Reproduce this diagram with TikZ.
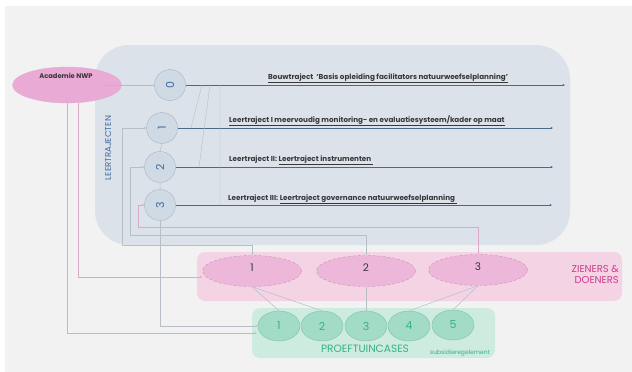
\documentclass[tikz,border=0pt]{standalone}
\usepackage{fontspec}
\setmainfont{Poppins}
\usepackage{xcolor}
\usetikzlibrary{arrows.meta}
\definecolor{achter}{HTML}{F2F2F2}
\definecolor{trajblok}{HTML}{DCE2E9}
\definecolor{trajcirkel}{HTML}{D0DAE4}
\definecolor{trajrand}{HTML}{A9B5C1}
\definecolor{trajblauw}{HTML}{3D6B9E}
\definecolor{trajlijn}{HTML}{4B6A86}
\definecolor{tekstgrijs}{HTML}{383838}
\definecolor{roosblok}{HTML}{F4D3E4}
\definecolor{roosell}{HTML}{ECB7D9}
\definecolor{roosrand}{HTML}{CC8FB8}
\definecolor{acadroos}{HTML}{E9AAD6}
\definecolor{magenta}{HTML}{CC3D8C}
\definecolor{groenblok}{HTML}{CDEBDF}
\definecolor{groenell}{HTML}{A3DCC6}
\definecolor{groenrand}{HTML}{7FC2A9}
\definecolor{groentekst}{HTML}{36B089}
\definecolor{verbgrijs}{HTML}{B7BEC6}
\definecolor{verbroos}{HTML}{D9A9C5}
\newcommand{\fs}[1]{\fontsize{#1}{#1}\selectfont}
\newcommand{\draai}[1]{\rotatebox{90}{#1}}
\tikzset{
  tip/.style={-{Stealth[length=2.4pt,width=2pt]}},
  trajcirc/.style={circle,fill=trajcirkel,draw=trajrand,line width=0.4pt,minimum size=31pt,inner sep=0pt,text=trajblauw,font=\fs{11}},
  zienell/.style={ellipse,fill=roosell,draw=roosrand,densely dashed,line width=0.4pt,minimum width=99pt,minimum height=31pt,inner sep=0pt,text=tekstgrijs,font=\fs{10}},
  proefell/.style={ellipse,fill=groenell,draw=groenrand,line width=0.4pt,minimum width=42pt,minimum height=30pt,inner sep=0pt,text=groentekst,font=\fs{11}},
  trajtekst/.style={anchor=base west,inner sep=0pt,text=tekstgrijs,font=\bfseries\fs{7.2}},
  verb/.style={draw=verbgrijs,line width=0.5pt},
  verbr/.style={draw=verbroos,line width=0.5pt},
  trajpijl/.style={draw=trajlijn,line width=0.7pt,tip}
}
\usetikzlibrary{shapes.geometric}
\begin{document}
\begin{tikzpicture}[x=1pt,y=-1pt]
\useasboundingbox (0,0) rectangle (632,372);
\fill[white] (0,0) rectangle (632,372);
\fill[achter] (5,6) rectangle (632,372);
\fill[trajblok,rounded corners=34pt] (95,45) rectangle (570,245);
\fill[roosblok,rounded corners=8pt] (197,252) rectangle (622,301);
\fill[groenblok,rounded corners=8pt] (252,308) rectangle (495,358);

\node[ellipse,fill=acadroos,draw=roosrand!70,line width=0.3pt,minimum width=109pt,minimum height=36pt,inner sep=0pt] (acad) at (67,85) {};
\node[text=tekstgrijs,font=\bfseries\fs{6.7}] (acadtxt) at (66,76) {Academie NWP};

\node[trajcirc] (c0) at (170,85) {\draai{0}};
\node[trajcirc] (c1) at (162,128) {\draai{1}};
\node[trajcirc] (c2) at (160,167) {\draai{2}};
\node[trajcirc] (c3) at (160,205) {\draai{3}};
\node[rotate=90,text=trajblauw,font=\fs{8.6}] (leer) at (108,148) {LEERTRAJECTEN};

\coordinate (e0) at (565,85);
\coordinate (e1) at (553,128);
\coordinate (e2) at (553,167);
\coordinate (e3) at (552,205);
\draw[trajpijl] (c0) -- (e0);
\draw[trajpijl] (c1) -- (e1);
\draw[trajpijl] (c2) -- (e2);
\draw[trajpijl] (c3) -- (e3);

\node[trajtekst] (t0) at (268,79) {\underline{Bouwtraject\ \ ‘Basis opleiding facilitators natuurweefselplanning’}};
\node[trajtekst] (t1) at (229,122) {\underline{Leertraject I meervoudig monitoring- en evaluatiesysteem/kader op maat}};
\node[trajtekst] (t2) at (229,161) {Leertraject II: \underline{Leertraject instrumenten\ }};
\node[trajtekst] (t3) at (228,200) {Leertraject III: \underline{Leertraject governance natuurweefselplanning\ }};

\coordinate (s1) at (202,85);
\coordinate (s2) at (210,85);
\coordinate (s3) at (220,85);
\coordinate (d1) at (191,128);
\coordinate (d2) at (199,167);
\coordinate (d3) at (220,205);
\draw[verb,line width=0.4pt] (s1) -- (d1) (s2) -- (d2) (s3) -- (d3);
\draw[verb] (c1.south) -- (c2.north) (c2.south) -- (c3.north);

\node[zienell] (z1) at (252,271) {};
\node[zienell] (z2) at (366,271) {};
\node[zienell] (z3) at (478,270) {};
\node[text=tekstgrijs,font=\fs{10.5}] (z1t) at (z1) [yshift=3pt] {1};
\node[text=tekstgrijs,font=\fs{10.5}] (z2t) at (z2) [yshift=3pt] {2};
\node[text=tekstgrijs,font=\fs{10.5}] (z3t) at (z3) [yshift=3pt] {3};
\node[anchor=north east,align=right,text=magenta,font=\fs{10},inner sep=0pt] (zien) at (619,265) {ZIENERS \&\\[1pt]DOENERS};

\node[proefell] (g1) at (279,326) {1};
\node[proefell] (g2) at (322,326) {2};
\node[proefell] (g3) at (366,326) {3};
\node[proefell] (g4) at (409,326) {4};
\node[proefell] (g5) at (453,325) {5};
\node[text=groentekst,font=\fs{10.6}] (proef) at (365,349) {PROEFTUINCASES};
\node[text=groentekst,font=\fs{6}] (subs) at (460,353) {subsidieregelement};

\draw[verb] (z1.south) -- (g1.north);
\draw[verb] (z1.south) -- (g2.north);
\draw[verb] (z2.south) -- (g3.north);
\draw[verb] (z3.south) -- (g4.north);
\draw[verb] (z3.south) -- (g5.north);

\draw[verb,tip] (z1.north) -- ++(0,-10) -| ([xshift=-24pt]c1.west) -- (c1.west);
\draw[verb,tip] (z2.north) -- ++(0,-20) -| ([xshift=-14pt]c2.west) -- (c2.west);
\draw[verbr,tip] (z3.north) -- ++(0,-27) -| ([xshift=-6pt]c3.west) -- (c3.west);
\draw[verb,tip] (c3.south) |- (g1.west);
\draw[verbr,tip] (c0.west) -- ([xshift=-19pt]acad.east);
\draw[verbr,tip] ([xshift=11pt]acad.south) |- ([yshift=-6pt]z1.west);
\draw[verb,tip] (acad.south) |- ([yshift=-7pt,xshift=-1pt]g1.west);
\end{tikzpicture}
\end{document}
